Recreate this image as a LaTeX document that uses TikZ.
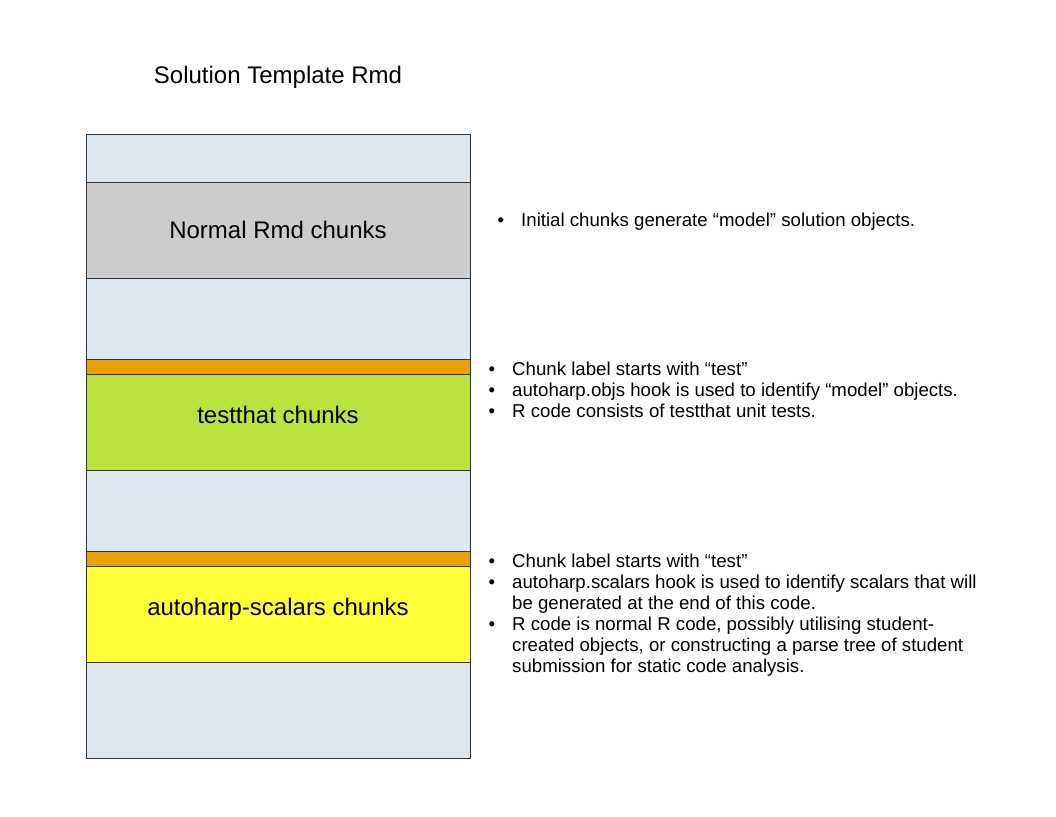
\documentclass[tikz,border=0pt]{standalone}
\usepackage{fontspec}
\setmainfont{Liberation Sans}
\definecolor{bgblue}{HTML}{DEE6EF}
\definecolor{chunkgray}{HTML}{CCCCCC}
\definecolor{chunkorange}{HTML}{E8A202}
\definecolor{chunkgreen}{HTML}{BBE33D}
\definecolor{chunkyellow}{HTML}{FFFF38}
\definecolor{edge}{HTML}{333333}
\begin{document}
\begin{tikzpicture}[x=1pt,y=-1pt,
  band/.style={draw=edge,line width=1pt,rectangle,inner sep=0pt,minimum width=384pt,anchor=north west},
  boxlabel/.style={font=\fontsize{24}{28}\selectfont,anchor=base,inner sep=0pt},
  bul/.style={font=\fontsize{18.65}{21}\selectfont,anchor=base,inner sep=0pt},
  line/.style={font=\fontsize{18.65}{21}\selectfont,anchor=base west,inner sep=0pt}]
\useasboundingbox (0,0) rectangle (1056,816);
\node[band,fill=bgblue,minimum height=624pt] (outer) at (86,134) {};
\node[band,fill=chunkgray,minimum height=96pt] (normal) at (86,182) {};
\node[band,fill=chunkorange,minimum height=15pt] (orange1) at (86,359) {};
\node[band,fill=chunkgreen,minimum height=96pt] (green) at (86,374) {};
\node[band,fill=chunkorange,minimum height=15pt] (orange2) at (86,551) {};
\node[band,fill=chunkyellow,minimum height=96pt] (yellow) at (86,566) {};
\node[boxlabel] (title) at (278,83.5) {Solution Template Rmd};
\node[boxlabel] (lnormal) at (278,238.5) {Normal Rmd chunks};
\node[boxlabel] (lgreen) at (278,423.5) {testthat chunks};
\node[boxlabel] (lyellow) at (278,615.5) {autoharp-scalars chunks};
% list 1
\node[bul] (b1) at (501,226) {•};
\node[line] (t1) at (521,226) {Initial chunks generate “model” solution objects.};
% list 2
\node[bul] (b2a) at (492,375) {•};
\node[line] (t2a) at (512,375) {Chunk label starts with “test”};
\node[bul] (b2b) at (492,396) {•};
\node[line] (t2b) at (512,396) {autoharp.objs hook is used to identify “model” objects.};
\node[bul] (b2c) at (492,417) {•};
\node[line] (t2c) at (512,417) {R code consists of testthat unit tests.};
% list 3
\node[bul] (b3a) at (492,567) {•};
\node[line] (t3a) at (512,567) {Chunk label starts with “test”};
\node[bul] (b3b) at (492,588) {•};
\node[line] (t3b) at (512,588) {autoharp.scalars hook is used to identify scalars that will};
\node[line] (t3c) at (512,609) {be generated at the end of this code.};
\node[bul] (b3d) at (492,630) {•};
\node[line] (t3d) at (512,630) {R code is normal R code, possibly utilising student-};
\node[line] (t3e) at (512,651) {created objects, or constructing a parse tree of student};
\node[line] (t3f) at (512,672) {submission for static code analysis.};
\end{tikzpicture}
\end{document}
